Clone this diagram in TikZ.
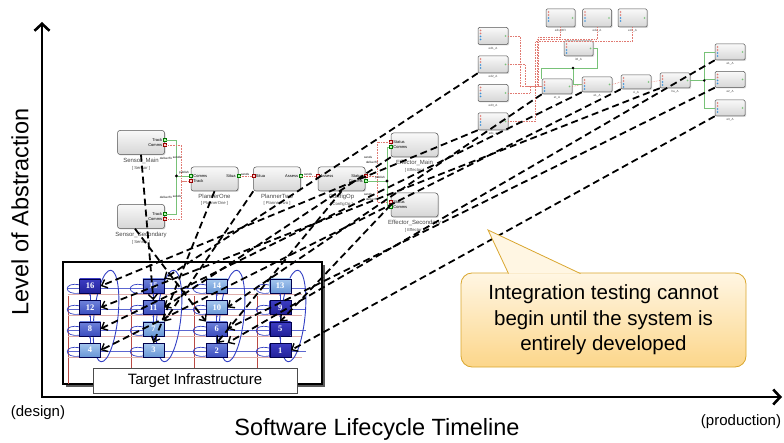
\documentclass[tikz,border=0pt]{standalone}
\usepackage{fontspec}
\setmainfont{Liberation Sans}
\newfontfamily\numfont{Liberation Serif}
\usetikzlibrary{positioning,arrows.meta,shadows}

\definecolor{cpudarktop}{HTML}{3C3CC2}
\definecolor{cpudarkbot}{HTML}{22229A}
\definecolor{cpumidtop}{HTML}{6E82DA}
\definecolor{cpumidbot}{HTML}{3B4DBE}
\definecolor{cpulighttop}{HTML}{A4C6EE}
\definecolor{cpulightbot}{HTML}{6896D6}
\definecolor{busblue}{HTML}{3340C4}
\definecolor{busred}{HTML}{B94A44}
\definecolor{notetop}{HTML}{FFF6E3}
\definecolor{notebot}{HTML}{FCD68A}
\definecolor{noteline}{HTML}{D9A62E}
\definecolor{wiregreen}{HTML}{78C278}
\definecolor{wirered}{HTML}{E07A72}
\definecolor{portblue}{HTML}{3A8FD8}

\tikzstyle{lcaxis}=[line width=2.8pt, line join=miter,
  {Straight Barb[length=7pt,width=15pt,line width=2.6pt]}-{Straight Barb[length=7pt,width=15pt,line width=2.6pt]}]
\tikzstyle{atext}=[inner sep=0pt, font=\fontsize{23.5}{26}\selectfont]
\tikzstyle{etext}=[inner sep=0pt, font=\fontsize{15}{17}\selectfont]
\tikzstyle{infra}=[rectangle, draw=black, line width=1.3pt, fill=white, minimum width=259pt,
  minimum height=122pt, drop shadow={shadow xshift=3pt, shadow yshift=-3pt, fill=gray!70!black, opacity=1}]
\tikzstyle{tgtbox}=[rectangle, draw=black!70, line width=0.6pt, fill=white, minimum width=204pt,
  minimum height=25pt, font=\fontsize{15}{17}\selectfont]
\tikzstyle{cpu}=[rectangle, draw=blue!30!black, line width=0.4pt, minimum width=21pt, minimum height=14pt,
  inner sep=0pt, text=white, font=\numfont\bfseries\fontsize{8.5}{9}\selectfont]
\tikzstyle{cpuA}=[cpu, top color=cpudarktop, bottom color=cpudarkbot]
\tikzstyle{cpuB}=[cpu, top color=cpumidtop, bottom color=cpumidbot]
\tikzstyle{cpuC}=[cpu, top color=cpulighttop, bottom color=cpulightbot]
\tikzstyle{bline}=[-, busblue, line width=0.7pt]
\tikzstyle{rbus}=[-, busred, line width=0.7pt]
\tikzstyle{cbox}=[rectangle, rounded corners=2.5pt, draw=gray!65!black, line width=0.5pt,
  top color=gray!5, bottom color=gray!32, minimum width=47pt, minimum height=24pt, inner sep=0pt,
  drop shadow={shadow xshift=1pt, shadow yshift=-1pt, opacity=.3}]
\tikzstyle{tbox}=[cbox, rounded corners=1.2pt, minimum width=30pt, minimum height=17pt,
  path picture={
    \fill[wirered] ([xshift=1.5pt,yshift=-2pt]path picture bounding box.north west) rectangle ++(2pt,-2pt);
    \fill[wirered] ([xshift=1.5pt,yshift=-5pt]path picture bounding box.north west) rectangle ++(2pt,-2pt);
    \fill[portblue] ([xshift=1.5pt,yshift=-8pt]path picture bounding box.north west) rectangle ++(2pt,-2pt);
    \fill[portblue] ([xshift=1.5pt,yshift=-11pt]path picture bounding box.north west) rectangle ++(2pt,-2pt);
    \fill[wiregreen] ([xshift=-3.5pt,yshift=1pt]path picture bounding box.east) rectangle ++(2pt,-2pt);
  }]
\tikzstyle{cname}=[inner sep=0pt, text=gray!55!black, font=\fontsize{6}{6}\selectfont]
\tikzstyle{ctype}=[inner sep=0pt, text=gray!55!black, font=\fontsize{4.2}{5}\selectfont]
\tikzstyle{tname}=[inner sep=0pt, text=gray!55!black, font=\fontsize{3}{3}\selectfont]
\tikzstyle{plab}=[inner sep=0.3pt, font=\fontsize{4}{4}\selectfont]
\tikzstyle{wlab}=[inner sep=0pt, font=\fontsize{3}{3}\selectfont]
\tikzstyle{gport}=[rectangle, draw=green!45!black, fill=green!30, minimum size=3pt, inner sep=0pt, line width=0.3pt]
\tikzstyle{rport}=[rectangle, draw=red!60!black, fill=red!20, minimum size=3pt, inner sep=0pt, line width=0.3pt]
\tikzstyle{gline}=[-, wiregreen, line width=0.6pt]
\tikzstyle{rline}=[-, wirered, line width=0.6pt, densely dotted]
\tikzstyle{deploy}=[dash pattern=on 7pt off 4pt, line width=1.8pt,
  -{Straight Barb[length=5pt,width=9pt,line width=1.4pt]}]
\tikzstyle{notebox}=[rectangle, rounded corners=11pt, draw=noteline, line width=0.8pt,
  top color=notetop, bottom color=notebot, minimum width=285pt, minimum height=94pt,
  align=center, font=\fontsize{20.5}{25.5}\selectfont]
\tikzstyle{notetri}=[draw=noteline, line width=0.8pt, fill=notetop, line join=miter]

\begin{document}
\begin{tikzpicture}[x=1pt,y=-1pt]
\useasboundingbox (0,0) rectangle (784,443);

% axes and their captions
\coordinate (YTOP) at (42,22);
\coordinate (ORIGIN) at (42,397);
\coordinate (XEND) at (782,397);
\draw[lcaxis] (YTOP) -- (ORIGIN) -- (XEND);
\node (YLAB) [atext, rotate=90] at (20,212) {Level of Abstraction};
\node (XLAB) [atext] at (377,429) {Software Lifecycle Timeline};
\node (DESIGN) [etext] at (38,413) {(design)};
\node (PROD) [etext] at (741,422) {(production)};

% hardware: 4x4 processor grid
\node (INFRA) [infra] at (192.5,323) {};
\draw[rbus] (68,296) -- (68,384); \draw[rbus] (131,296) -- (131,384);
\draw[rbus] (194,296) -- (194,384); \draw[rbus] (257,296) -- (257,384);
\draw[rbus, busred!45, line width=0.45pt] (68,294) -- (302,294) (68,315) -- (302,315) (68,336) -- (302,336) (68,357) -- (302,357);
\draw[bline, busblue!80, line width=0.55pt] (68,288) -- (306,288) (68,309) -- (306,309) (68,330) -- (306,330) (68,351) -- (306,351);
\draw[bline] (80,285) .. controls (63,281) and (63,296) .. (80,293)
  (80,306) .. controls (63,302) and (63,317) .. (80,314)
  (80,327) .. controls (63,323) and (63,338) .. (80,335)
  (80,348) .. controls (63,344) and (63,359) .. (80,356);
\draw[bline] (143,285) .. controls (126,281) and (126,296) .. (143,293)
  (143,306) .. controls (126,302) and (126,317) .. (143,314)
  (143,327) .. controls (126,323) and (126,338) .. (143,335)
  (143,348) .. controls (126,344) and (126,359) .. (143,356);
\draw[bline] (206,285) .. controls (189,281) and (189,296) .. (206,293)
  (206,306) .. controls (189,302) and (189,317) .. (206,314)
  (206,327) .. controls (189,323) and (189,338) .. (206,335)
  (206,348) .. controls (189,344) and (189,359) .. (206,356);
\draw[bline] (269,285) .. controls (252,281) and (252,296) .. (269,293)
  (269,306) .. controls (252,302) and (252,317) .. (269,314)
  (269,327) .. controls (252,323) and (252,338) .. (269,335)
  (269,348) .. controls (252,344) and (252,359) .. (269,356);
\draw[bline, line width=0.9pt] (106,316) ellipse [x radius=12, y radius=46, rotate=-6];
\draw[bline, line width=0.9pt] (169,316) ellipse [x radius=12, y radius=46, rotate=-6];
\draw[bline, line width=0.9pt] (232,316) ellipse [x radius=12, y radius=46, rotate=-6];
\draw[bline, line width=0.9pt] (293,316) ellipse [x radius=12, y radius=46, rotate=-6];

\node (N16) [cpuA] at (90,286) {16};
\node (N12) [cpuB, below=7pt of N16] {12};
\node (N8) [cpuB, below=7pt of N12] {8};
\node (N4) [cpuC, below=7pt of N8] {4};
\node (N15) [cpuB, right=42pt of N16] {15};
\node (N11) [cpuB, below=7pt of N15] {11};
\node (N7) [cpuC, below=7pt of N11] {7};
\node (N3) [cpuC, below=7pt of N7] {3};
\node (N14) [cpuC, right=42pt of N15] {14};
\node (N10) [cpuC, below=7pt of N14] {10};
\node (N6) [cpuB, below=7pt of N10] {6};
\node (N2) [cpuB, below=7pt of N6] {2};
\node (N13) [cpuC, right=42pt of N14] {13};
\node (N9) [cpuA, below=7pt of N13] {9};
\node (N5) [cpuA, below=7pt of N9] {5};
\node (N1) [cpuA, below=7pt of N5] {1};
\draw[bline, -{Stealth[length=2.5pt]}] (N4) -- (N8);
\draw[bline, -{Stealth[length=2.5pt]}] (N8) -- (N12);
\draw[bline, -{Stealth[length=2.5pt]}] (N12) -- (N16);
\draw[bline, -{Stealth[length=2.5pt]}] (N3) -- (N7);
\draw[bline, -{Stealth[length=2.5pt]}] (N7) -- (N11);
\draw[bline, -{Stealth[length=2.5pt]}] (N11) -- (N15);
\draw[bline, -{Stealth[length=2.5pt]}] (N2) -- (N6);
\draw[bline, -{Stealth[length=2.5pt]}] (N6) -- (N10);
\draw[bline, -{Stealth[length=2.5pt]}] (N10) -- (N14);
\draw[bline, -{Stealth[length=2.5pt]}] (N1) -- (N5);
\draw[bline, -{Stealth[length=2.5pt]}] (N5) -- (N9);
\draw[bline, -{Stealth[length=2.5pt]}] (N9) -- (N13);
\node (TGT) [tgtbox] at (195,380.5) {Target Infrastructure};

% software components
\node (SENSMAIN) [cbox] at (141,142.5) {};
\node (SENSMAINN) [cname, below=3pt of SENSMAIN] {Sensor\_Main};
\node (SENSMAINT) [ctype, below=2.5pt of SENSMAINN] {[ Sensor ]};
\node (SMTRACK) [gport] at ([yshift=2.5pt]SENSMAIN.east) {};
\node (SMCOMMS) [rport] at ([yshift=-2.5pt]SENSMAIN.east) {};
\node (SMTRACKL) [plab, left=0.5pt of SMTRACK] {Track};
\node (SMCOMMSL) [plab, left=0.5pt of SMCOMMS] {Comms};

\node (SENSSEC) [cbox] at (141,216.5) {};
\node (SENSSECN) [cname, below=3pt of SENSSEC] {Sensor\_Secondary};
\node (SENSSECT) [ctype, below=2.5pt of SENSSECN] {[ Sensor ]};
\node (SSTRACK) [gport] at ([yshift=2.5pt]SENSSEC.east) {};
\node (SSCOMMS) [rport] at ([yshift=-2.5pt]SENSSEC.east) {};
\node (SSTRACKL) [plab, left=0.5pt of SSTRACK] {Track};
\node (SSCOMMSL) [plab, left=0.5pt of SSCOMMS] {Comms};

\node (PLANONE) [cbox] at (214.5,179) {};
\node (PLANONEN) [cname, below=3pt of PLANONE] {PlannerOne};
\node (PLANONET) [ctype, below=2.5pt of PLANONEN] {[ PlannerOne ]};
\node (P1COMMS) [gport] at ([yshift=3pt]PLANONE.west) {};
\node (P1TRACK) [rport] at ([yshift=-2pt]PLANONE.west) {};
\node (P1SITUA) [gport] at ([yshift=3pt]PLANONE.east) {};
\node (P1COMMSL) [plab, right=0.5pt of P1COMMS] {Comms};
\node (P1TRACKL) [plab, right=0.5pt of P1TRACK] {Track};
\node (P1SITUAL) [plab, left=0.5pt of P1SITUA] {Situa};

\node (PLANTWO) [cbox, right=15pt of PLANONE] {};
\node (PLANTWON) [cname, below=3pt of PLANTWO] {PlannerTwo};
\node (PLANTWOT) [ctype, below=2.5pt of PLANTWON] {[ PlannerTwo ]};
\node (P2SITUA) [rport] at ([yshift=3pt]PLANTWO.west) {};
\node (P2ASSESS) [gport] at ([yshift=3pt]PLANTWO.east) {};
\node (P2SITUAL) [plab, right=0.5pt of P2SITUA] {Situa};
\node (P2ASSESSL) [plab, left=0.5pt of P2ASSESS] {Assess};

\node (CONFIG) [cbox, right=17pt of PLANTWO] {};
\node (CONFIGN) [cname, below=3pt of CONFIG] {ConfigOp};
\node (CONFIGT) [ctype, below=2.5pt of CONFIGN] {[ ConfigOp ]};
\node (COASSESS) [rport] at ([yshift=3pt]CONFIG.west) {};
\node (COSTATUS) [rport] at ([yshift=3pt]CONFIG.east) {};
\node (COCOMMS) [gport] at ([yshift=-2pt]CONFIG.east) {};
\node (COASSESSL) [plab, right=0.5pt of COASSESS] {Assess};
\node (COSTATUSL) [plab, left=0.5pt of COSTATUS] {Status};
\node (COCOMMSL) [plab, left=0.5pt of COCOMMS] {Comms};

\node (EFFMAIN) [cbox] at (414.5,145) {};
\node (EFFMAINN) [cname, below=3pt of EFFMAIN] {Effector\_Main};
\node (EFFMAINT) [ctype, below=2.5pt of EFFMAINN] {[ Effector ]};
\node (EMSTATUS) [rport] at ([yshift=3pt]EFFMAIN.west) {};
\node (EMCOMMS) [gport] at ([yshift=-2pt]EFFMAIN.west) {};
\node (EMSTATUSL) [plab, right=0.5pt of EMSTATUS] {Status};
\node (EMCOMMSL) [plab, right=0.5pt of EMCOMMS] {Comms};

\node (EFFSEC) [cbox] at (414.5,205) {};
\node (EFFSECN) [cname, below=3pt of EFFSEC] {Effector\_Secondary};
\node (EFFSECT) [ctype, below=2.5pt of EFFSECN] {[ Effector ]};
\node (ESSTATUS) [rport] at ([yshift=3pt]EFFSEC.west) {};
\node (ESCOMMS) [gport] at ([yshift=-2pt]EFFSEC.west) {};
\node (ESSTATUSL) [plab, right=0.5pt of ESSTATUS] {Status};
\node (ESCOMMSL) [plab, right=0.5pt of ESCOMMS] {Comms};

\draw[gline] (SMTRACK.east) -- ++(10,0) coordinate (JSM) |- (P1COMMS.west);
\draw[gline] (SSTRACK.east) -- ++(10,0) |- (P1COMMS.west);
\draw[rline] (SMCOMMS.east) -- ++(15,0) |- (P1TRACK.west);
\draw[rline] (SSCOMMS.east) -- ++(15,0) |- (P1TRACK.west);
\fill (JSM |- P1COMMS.west) circle (1.6pt);
\draw[rline] (P1SITUA.east) -- (P2SITUA.west);
\draw[rline] (P2ASSESS.east) -- (COASSESS.west);
\draw[rline] (COSTATUS.east) -- ++(10,0) |- (EMSTATUS.west);
\draw[rline] (COSTATUS.east) -- ++(10,0) |- (ESSTATUS.west);
\draw[gline] (COCOMMS.east) -- ++(20,0) coordinate (JCO) |- (EMCOMMS.west);
\draw[gline] (COCOMMS.east) -- ++(20,0) |- (ESCOMMS.west);
\fill (JCO) circle (1.6pt);
\node (WL1) [wlab] at (166,158) {deliverTo};
\node (WL2) [wlab] at (177,157) {sends};
\node (WL3) [wlab] at (184,173) {publish};
\node (WL4) [wlab] at (166,197) {deliverTo};
\node (WL5) [wlab] at (177,196) {sends};
\node (WL6) [wlab] at (245,174) {sends};
\node (WL7) [wlab] at (308,174) {sends};
\node (WL8) [wlab] at (368,157) {sends};
\node (WL9) [wlab] at (372,162) {deliverTo};
\node (WL10) [wlab] at (380,178) {publish};
\node (WL11) [wlab] at (368,194) {sends};
\node (WL12) [wlab] at (372,199) {deliverTo};

% target software, detailed view
\node (ED1) [tbox] at (493,36) {};
\node (ED1N) [tname, below=2pt of ED1] {ed1\_A};
\node (ED2) [tbox, below=11pt of ED1] {};
\node (ED2N) [tname, below=2pt of ED2] {ed2\_A};
\node (ED3) [tbox, below=11pt of ED2] {};
\node (ED3N) [tname, below=2pt of ED3] {ed3\_A};
\node (ED4) [tbox, below=11pt of ED3] {};
\node (ED4N) [tname, below=2pt of ED4] {eds\_A};
\node (T1) [tbox, minimum width=29pt, minimum height=18pt] at (560.5,18) {};
\node (T1N) [tname, below=2pt of T1] {eds\_BFI};
\node (T2) [tbox, minimum width=29pt, minimum height=18pt, right=7pt of T1] {};
\node (T2N) [tname, below=2pt of T2] {ed2\_A};
\node (T3) [tbox, minimum width=29pt, minimum height=18pt, right=6pt of T2] {};
\node (T3N) [tname, below=2pt of T3] {ed3\_A};
\node (MID) [tbox, minimum width=29pt, minimum height=15pt] at (578.5,48.5) {};
\node (MIDN) [tname, below=2pt of MID] {it2\_A};
\node (EA) [tbox, minimum height=15pt] at (557,86.5) {};
\node (EAN) [tname, below=2pt of EA] {et\_A};
\node (EB) [tbox, minimum height=15pt] at (597,84.5) {};
\node (EBN) [tname, below=2pt of EB] {e1\_A};
\node (EC) [tbox, minimum height=14pt] at (636,82) {};
\node (ECN) [tname, below=2pt of EC] {ci\_A};
\node (ED) [tbox, minimum height=15pt] at (675,80.5) {};
\node (EDN) [tname, below=2pt of ED] {ha\_A};
\node (R1) [tbox, minimum height=16pt] at (730,52) {};
\node (R1N) [tname, below=2pt of R1] {e1\_A};
\node (R2) [tbox, minimum height=16pt, below=11pt of R1] {};
\node (R2N) [tname, below=2pt of R2] {e2\_A};
\node (R3) [tbox, minimum height=16pt, below=12pt of R2] {};
\node (R3N) [tname, below=2pt of R3] {e3\_A};

\draw[rline] (ED1.east) -- ++(12,0) |- (EA.west);
\draw[rline] (ED2.east) -- ++(17,0) |- (EA.west);
\draw[rline] (ED3.east) -- ++(22,0) |- (EA.west);
\draw[rline] (ED4.east) -- ++(27,0) |- (EA.west);
\draw[rline] (T1.south) |- ++(-22,10) |- (EA.west);
\draw[rline] (T2.south) |- ++(-60,12) |- (EA.west);
\draw[rline] (T3.south) |- ++(-97,14) |- (EA.west);
\coordinate (JMID) at (573,68);
\draw[gline] (MID.east) -- ++(4,0) |- (JMID);
\draw[gline] (JMID) -| (EA.north west);
\draw[gline] (JMID) |- (EB.west);
\fill (JMID) circle (1.3pt);
\draw[rline] (EA.east) -- (EB.west);
\draw[rline] (EB.east) -- (EC.west);
\draw[rline] (EC.east) -- (ED.west);
\draw[gline] (ED.east) -- ++(14,0) coordinate (JED) |- (R1.west);
\draw[gline] (ED.east) -- ++(14,0) |- (R2.west);
\draw[gline] (ED.east) -- ++(14,0) |- (R3.west);
\fill (JED) circle (1.3pt);

% deployment onto processors
\draw[deploy] (ED2.south west) -- (N15.north east);
\draw[deploy] (ED4.south west) -- (N16.east);
\draw[deploy] (ED.south west) -- (N12.east);
\draw[deploy] (EB.south west) -- (N8.east);
\draw[deploy] (EC.south west) -- (N4.east);
\draw[deploy] (EA.south west) -- (N10.east);
\draw[deploy] (R1.south west) -- (N2.north east);
\draw[deploy] (R2.south west) -- (N6.east);
\draw[deploy] (R3.south west) -- (N1.east);
\draw[deploy] (EFFMAIN.south west) -- (N11.east);
\draw[deploy] (EFFSEC.west) -- (N5.north);
\draw[deploy] (SENSMAIN.south) -- (N11.north);
\draw[deploy] ([xshift=-6pt]SENSSEC.south) -- (N6.north west);
\draw[deploy] (PLANONE.south) -- (N3.north);
\draw[deploy] (PLANTWO.south west) -- (N7.north east);
\draw[deploy] (CONFIG.south) -- (N2.north);

% callout
\node (NOTE) [notebox] at (603.5,320) {Integration testing cannot\\begin until the system is\\entirely developed};
\coordinate (NOTETIP) at (488,230);
\coordinate (NB1) at ([xshift=-95pt,yshift=-1pt]NOTE.north);
\coordinate (NB2) at ([xshift=-23pt,yshift=-1pt]NOTE.north);
\draw[notetri] (NB1) -- (NOTETIP) -- (NB2);

\end{tikzpicture}
\end{document}
